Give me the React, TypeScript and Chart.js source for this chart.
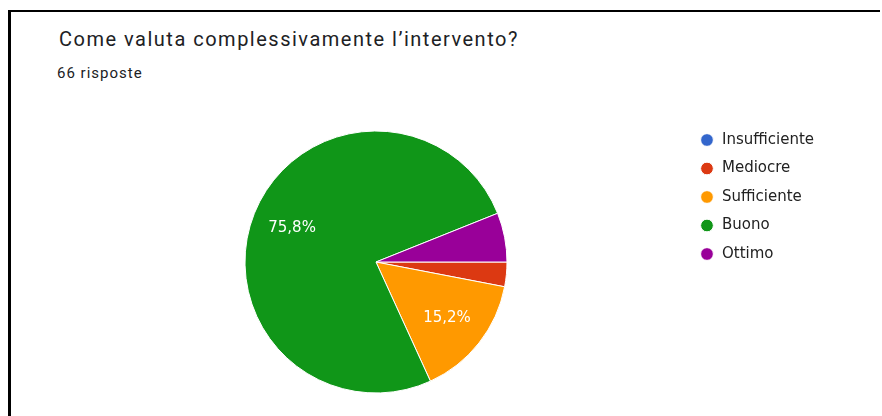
import React, { useEffect, useRef } from "react";
import { Chart, registerables } from "chart.js";

Chart.register(...registerables);

const titleText = "Come valuta complessivamente l’intervento?";
const subtitleText = "66 risposte";
const categories = ["Insufficiente", "Mediocre", "Sufficiente", "Buono", "Ottimo"];
const responses = [0, 2, 10, 50, 4];
const sliceColors = ["#3366cc", "#dc3912", "#ff9900", "#109618", "#990099"];

const pctLabels = {
  id: "pctLabels",
  afterDatasetsDraw(chart: any) {
    const ctx = chart.ctx;
    const meta = chart.getDatasetMeta(0);
    const data = chart.data.datasets[0].data as number[];
    const total = data.reduce((a: number, b: number) => a + b, 0);
    meta.data.forEach((arc: any, i: number) => {
      const frac = data[i] / total;
      if (frac < 0.1) return;
      const { x, y, startAngle, endAngle, outerRadius } = arc.getProps(
        ["x", "y", "startAngle", "endAngle", "outerRadius"],
        true
      );
      const mid = (startAngle + endAngle) / 2;
      const r = outerRadius * 0.69;
      ctx.save();
      ctx.fillStyle = "#ffffff";
      ctx.font = '15px "DejaVu Sans"';
      ctx.textAlign = "center";
      ctx.textBaseline = "middle";
      ctx.fillText(
        (frac * 100).toFixed(1).replace(".", ",") + "%",
        x + Math.cos(mid) * r,
        y + Math.sin(mid) * r
      );
      ctx.restore();
    });
  },
};

export default function App() {
  const canvasRef = useRef<HTMLCanvasElement | null>(null);

  useEffect(() => {
    if (!canvasRef.current) return;
    const chart = new Chart(canvasRef.current, {
      type: "pie",
      data: {
        labels: categories,
        datasets: [
          {
            data: responses,
            backgroundColor: sliceColors,
            borderColor: "#ffffff",
            borderWidth: 1,
            radius: 131,
          },
        ],
      },
      options: {
        animation: false,
        responsive: false,
        rotation: 90,
        layout: { padding: { left: 66, right: 58, top: 9, bottom: 11 } },
        plugins: {
          tooltip: { enabled: false },
          legend: {
            position: "right",
            align: "start",
            labels: {
              usePointStyle: true,
              pointStyle: "circle",
              boxWidth: 15,
              boxHeight: 9,
              padding: 13.5,
              color: "#222222",
              font: { family: '"DejaVu Sans"', size: 15 },
            },
          },
        },
      },
      plugins: [pctLabels],
    });
    return () => chart.destroy();
  }, []);

  return (
    <div
      style={{
        position: "fixed",
        left: 0,
        top: 0,
        width: 882,
        height: 416,
        background: "#ffffff",
        overflow: "hidden",
      }}
    >
      <div
        style={{
          position: "absolute",
          left: 8,
          top: 10,
          width: 872,
          height: 2,
          background: "#000",
        }}
      />
      <div
        style={{
          position: "absolute",
          left: 8,
          top: 10,
          width: 3,
          height: 406,
          background: "#000",
        }}
      />
      <div
        style={{
          position: "absolute",
          left: 59,
          top: 29,
          fontFamily: "Roboto",
          fontSize: 20,
          lineHeight: "20px",
          letterSpacing: "1.5px",
          color: "#202124",
          whiteSpace: "nowrap",
        }}
      >
        {titleText}
      </div>
      <div
        style={{
          position: "absolute",
          left: 57,
          top: 66,
          fontFamily: "Roboto",
          fontSize: 15,
          lineHeight: "15px",
          letterSpacing: "1px",
          color: "#202124",
          whiteSpace: "nowrap",
        }}
      >
        {subtitleText}
      </div>
      <canvas
        ref={canvasRef}
        width={882}
        height={306}
        style={{ position: "absolute", left: 0, top: 110, width: 882, height: 306 }}
      />
    </div>
  );
}
